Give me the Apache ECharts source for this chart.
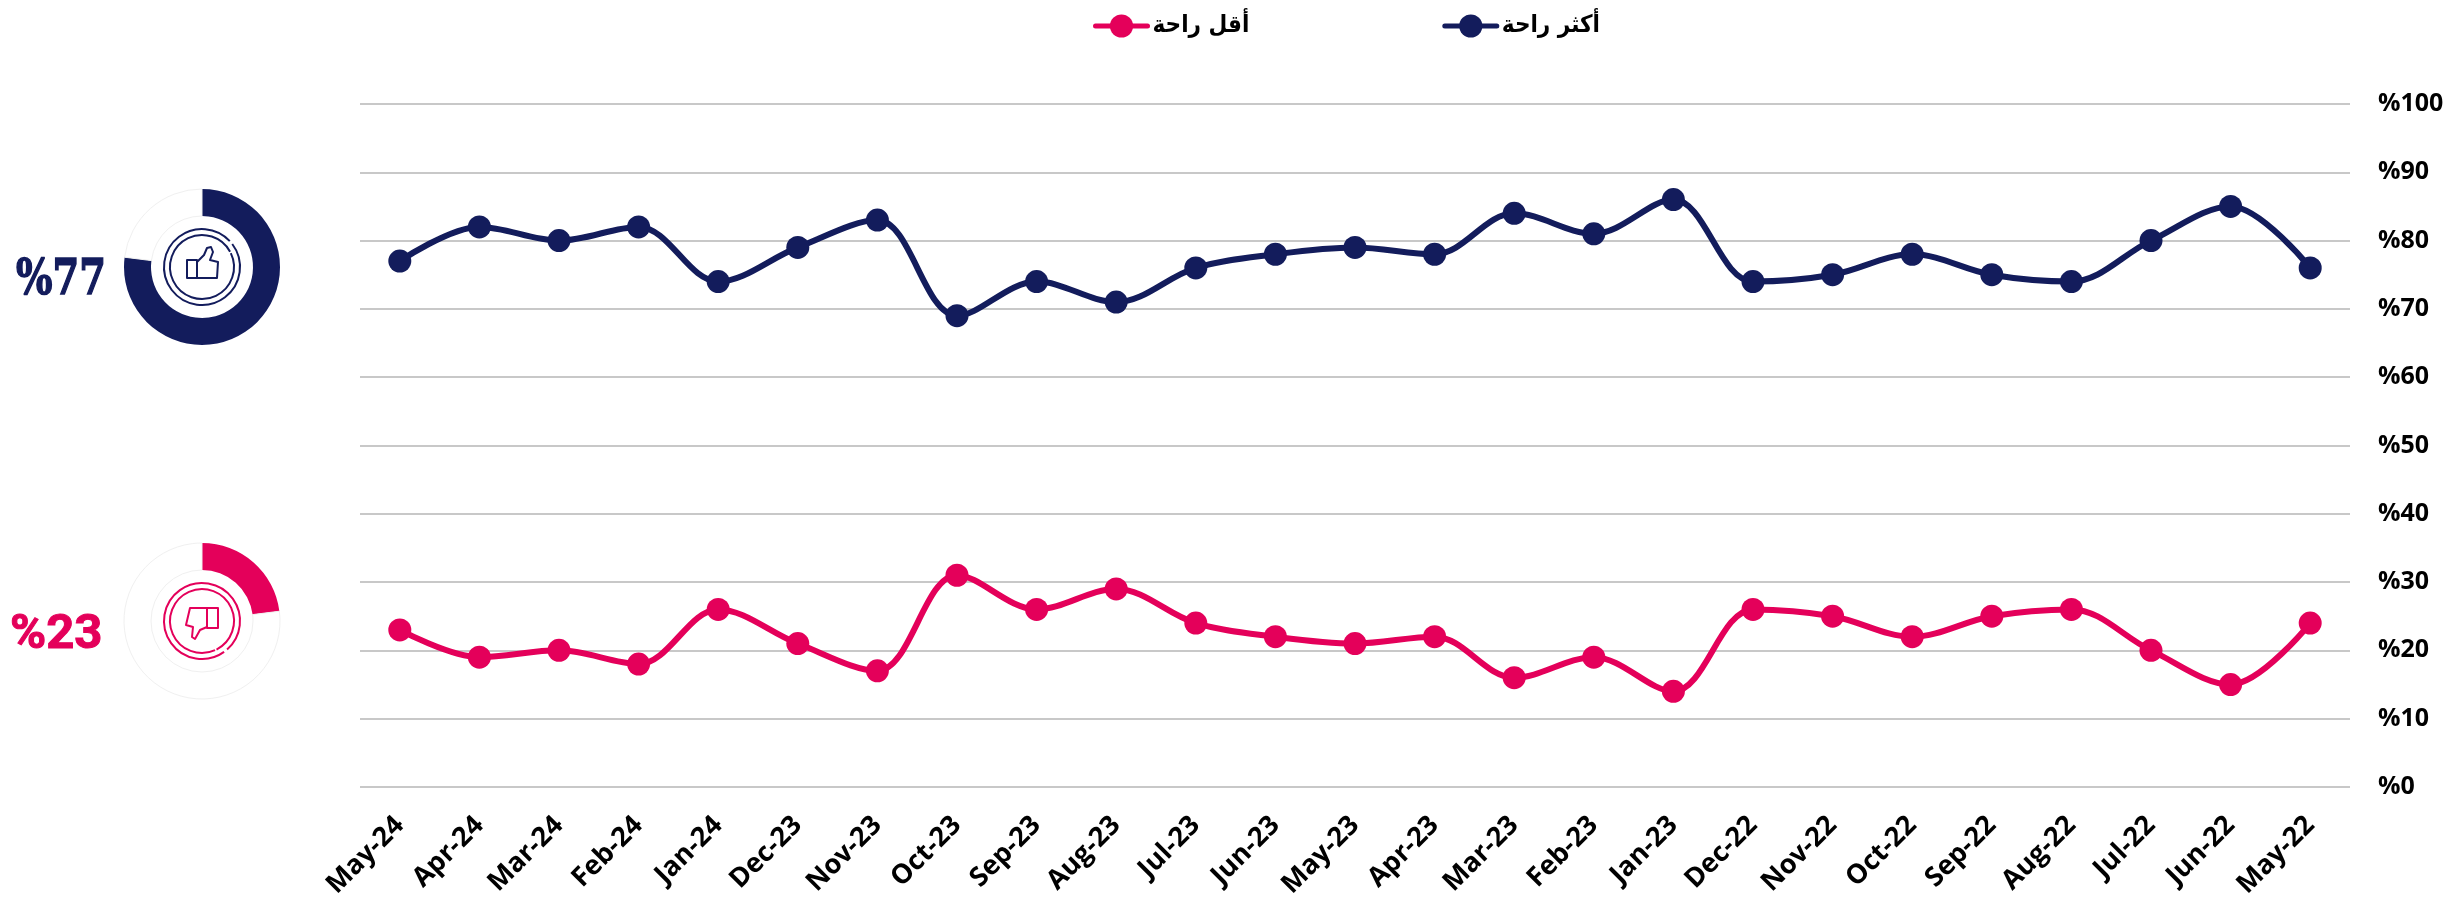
<!DOCTYPE html>
<html>
<head>
<meta charset="utf-8">
<style>
  html, body { margin: 0; padding: 0; background: #fff; }
  #chart { width: 2458px; height: 901px; }
</style>
</head>
<body>
<div id="chart"></div>
<script src="https://cdn.jsdelivr.net/npm/echarts@6/dist/echarts.min.js"></script>
<script>
const months = ['May-24','Apr-24','Mar-24','Feb-24','Jan-24','Dec-23','Nov-23','Oct-23','Sep-23','Aug-23','Jul-23','Jun-23','May-23','Apr-23','Mar-23','Feb-23','Jan-23','Dec-22','Nov-22','Oct-22','Sep-22','Aug-22','Jul-22','Jun-22','May-22'];
const moreComfort = [77,82,80,82,74,79,83,69,74,71,76,78,79,78,84,81,86,74,75,78,75,74,80,85,76];
const lessComfort = [23,19,20,18,26,21,17,31,26,29,24,22,21,22,16,19,14,26,25,22,25,26,20,15,24];
const moreName = 'أكثر راحة';
const lessName = 'أقل راحة';
const moreShare = 77;
const lessShare = 23;

const navy = '#131c5c';
const pink = '#e4005a';

const chart = echarts.init(document.getElementById('chart'));

// donut: coloured slice first, then the empty rest of the ring
function donut(value, color, centerY) {
  return {
    type: 'pie',
    silent: true,
    center: [202, centerY],
    radius: [51, 78],
    startAngle: 90,
    label: { show: false },
    labelLine: { show: false },
    data: [
      { value: value, itemStyle: { color: color, borderColor: color, borderWidth: 0 } },
      { value: 100 - value, itemStyle: { color: '#fff', borderColor: '#f0f0f0', borderWidth: 1 } }
    ]
  };
}

// two rings with small gaps round the thumb
function rings(cy, color, gapAngle) {
  const line = { stroke: color, fill: null, lineWidth: 2 };
  return [
    { type: 'arc', shape: { cx: 202, cy: cy, r: 38, startAngle: gapAngle + 0.05, endAngle: gapAngle - 0.05 + Math.PI * 2 }, style: line },
    { type: 'arc', shape: { cx: 202, cy: cy, r: 32, startAngle: gapAngle + 0.25, endAngle: gapAngle + 0.2 + Math.PI * 2 }, style: line }
  ];
}

// thumb icon outline: cuff plus hand
function thumb(cuff, hand, color) {
  const line = { stroke: color, fill: null, lineWidth: 2, lineJoin: 'round' };
  return [
    { type: 'polygon', shape: { points: cuff }, style: line },
    { type: 'polyline', shape: { points: hand }, style: line }
  ];
}

const option = {
  animation: false,
  backgroundColor: '#fff',
  grid: { left: 360, right: 108, top: 104, bottom: 114 },
  legend: {
    left: 1088,
    top: 9,
    itemWidth: 52,
    itemHeight: 29,
    itemGap: 193,
    data: [lessName, moreName],
    lineStyle: { width: 5, cap: 'round' },
    textStyle: { fontFamily: 'DejaVu Sans Condensed', fontWeight: 'bold', fontSize: 24, color: '#000' }
  },
  xAxis: {
    type: 'category',
    data: months,
    axisTick: { show: false },
    axisLine: { show: false },
    axisLabel: {
      interval: 0,
      rotate: 45,
      margin: 34,
      fontFamily: 'Open Sans',
      fontWeight: 'bold',
      fontSize: 27,
      color: '#000'
    }
  },
  yAxis: {
    type: 'value',
    position: 'right',
    min: 0,
    max: 100,
    interval: 10,
    axisLine: { show: false },
    axisTick: { show: false },
    axisLabel: {
      margin: 28,
      align: 'left',
      formatter: '%{value}',
      fontFamily: 'Open Sans',
      fontWeight: 'bold',
      fontSize: 25,
      color: '#000'
    },
    splitLine: { lineStyle: { color: '#c8c8c8', width: 2 } }
  },
  series: [
    {
      name: moreName,
      type: 'line',
      data: moreComfort,
      smooth: 0.35,
      symbol: 'circle',
      symbolSize: 23,
      lineStyle: { color: navy, width: 6 },
      itemStyle: { color: navy }
    },
    {
      name: lessName,
      type: 'line',
      data: lessComfort,
      smooth: 0.35,
      symbol: 'circle',
      symbolSize: 23,
      lineStyle: { color: pink, width: 6 },
      itemStyle: { color: pink }
    },
    donut(moreShare, navy, 267),
    donut(lessShare, pink, 621)
  ],
  graphic: [
    {
      type: 'text', x: 16, y: 282, scaleX: 0.8,
      style: { text: '%' + moreShare, fill: navy, stroke: navy, lineWidth: 1.5, fontFamily: 'DejaVu Serif', fontWeight: 'bold', fontSize: 48, verticalAlign: 'middle' }
    },
    {
      type: 'text', x: 10, y: 636,
      style: { text: '%' + lessShare, fill: pink, stroke: pink, lineWidth: 1, fontFamily: 'Roboto', fontWeight: 'bold', fontSize: 49, verticalAlign: 'middle' }
    },
    ...rings(267, navy, -0.7),
    ...rings(621, pink, 0.9),
    ...thumb(
      [[187,260],[197,260],[197,278],[187,278]],
      [[197,262],[204,255],[207,248],[211,247],[213,252],[210,260],[218,262],[217,278],[197,278]],
      navy
    ),
    ...thumb(
      [[207,608],[218,608],[218,628],[207,628]],
      [[207,608],[190,608],[186,625],[193,627],[192,637],[195,639],[200,630],[207,627]],
      pink
    )
  ]
};

chart.setOption(option);
</script>
</body>
</html>
